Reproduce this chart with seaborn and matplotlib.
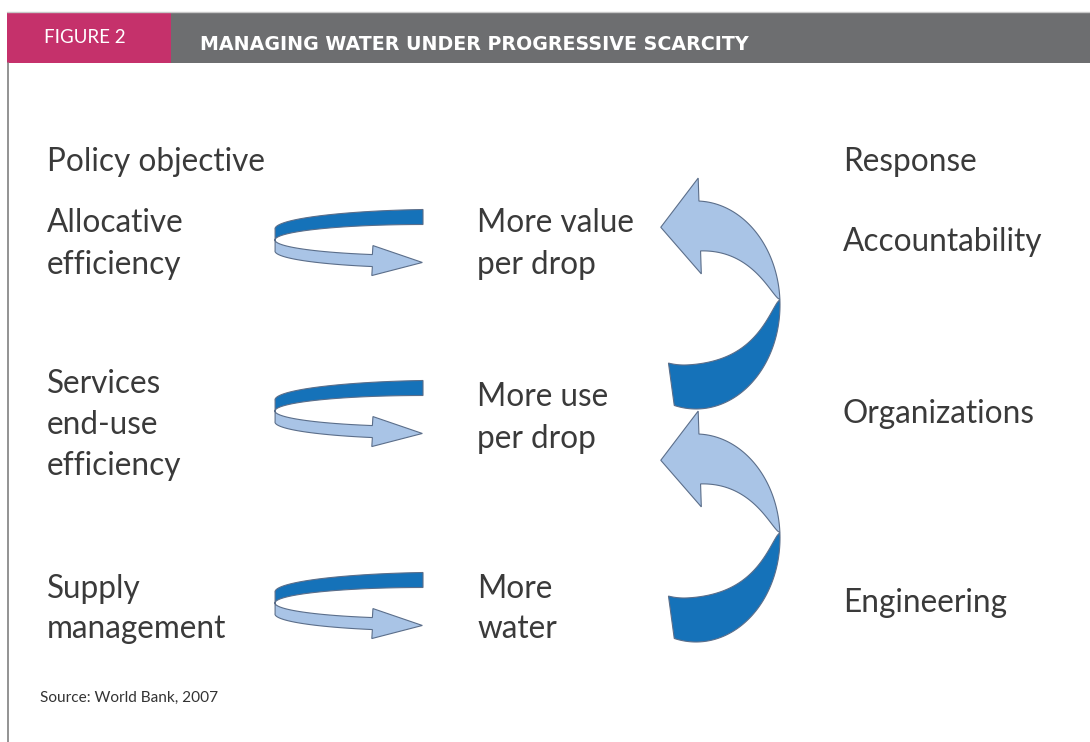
import numpy as np
import matplotlib
matplotlib.use('Agg')
import matplotlib.pyplot as plt
from matplotlib.patches import Polygon, Rectangle
import seaborn as sns

# labels
fig_tag = 'FIGURE 2'
fig_title = 'MANAGING WATER UNDER PROGRESSIVE SCARCITY'
left_head = 'Policy objective'
right_head = 'Response'
left_labels = ['Allocative\nefficiency', 'Services\nend-use\nefficiency', 'Supply\nmanagement']
mid_labels = ['More value\nper drop', 'More use\nper drop', 'More\nwater']
right_labels = ['Accountability', 'Organizations', 'Engineering']
source = 'Source: World Bank, 2007'

# layout (pixels)
left_y = [244, 425, 609]
mid_y = [244, 418, 609]
right_y = [242, 414, 603]
loop_y = [240, 411, 603]
big_y = [305, 538]
line_gap = 41

dark_blue = '#1572b9'
light_blue = '#a9c4e6'
edge = '#5b6e8a'
txt = '#3a3a3a'

sns.set_theme(style='white')
plt.rcParams['font.family'] = ['Lato', 'DejaVu Sans']

fig = plt.figure(figsize=(10.9, 7.42), dpi=100)
ax = fig.add_axes([0, 0, 1, 1])
ax.set_xlim(0, 1090)
ax.set_ylim(742, 0)
ax.axis('off')

# header bar + frame line
ax.add_patch(Rectangle((7, 12), 164, 51, color='#c5316b', lw=0))
ax.add_patch(Rectangle((171, 12), 919, 51, color='#6d6e70', lw=0))
ax.plot([7, 1090], [11.5, 11.5], color='#c8c8c8', lw=1)
ax.plot([8, 8], [63, 742], color='#8a8a8a', lw=1.3)
ax.text(44, 43, fig_tag, color='white', fontsize=13.5, va='baseline', ha='left')
ax.text(200, 50, fig_title, color='white', fontsize=13.7, fontweight='bold',
        family=['DejaVu Sans'], va='baseline', ha='left')


def put_lines(x, yc, s, size=22.7):
    lines = s.split('\n')
    n = len(lines)
    for i, ln in enumerate(lines):
        ax.text(x, yc + (i - (n - 1) / 2) * line_gap, ln, color=txt, fontsize=size,
                va='center', ha='left')


put_lines(47, 162, left_head)
put_lines(843, 162, right_head)
for lab, y in zip(left_labels, left_y):
    put_lines(47, y, lab)
for lab, y in zip(mid_labels, mid_y):
    put_lines(477, y, lab)
for lab, y in zip(right_labels, right_y):
    put_lines(843, y, lab)

ax.text(40, 698, source, color='#333333', fontsize=11.1, va='center', ha='left')


def small_loop(cy, cx=423, a=148, b=15.5):
    # light lower half with arrow head
    t = np.radians(np.linspace(178, 250, 60))
    x = cx + a * np.cos(t)
    yc = cy - b * np.sin(t)
    h = np.linspace(11, 12, len(t))
    d = np.array([-a * np.sin(t[-1]), -b * np.cos(t[-1])])
    d = d / np.hypot(*d)
    n = np.array([-d[1], d[0]])
    mid = np.array([x[-1], yc[-1] + h[-1] / 2])
    p_up = mid - 15 * n
    p_dn = mid + 15 * n
    tip = mid + 50 * d
    px = np.concatenate([x, [p_up[0], tip[0], p_dn[0]], x[::-1]])
    py = np.concatenate([yc, [p_up[1], tip[1], p_dn[1]], (yc + h)[::-1]])
    ax.add_patch(Polygon(np.column_stack([px, py]), fc=light_blue, ec=edge, lw=0.8))
    # dark upper half
    t = np.radians(np.linspace(90, 182, 60))
    x = cx + a * np.cos(t)
    yc = cy - b * np.sin(t)
    h = np.linspace(15, 11, len(t))
    px = np.concatenate([x, x[::-1]])
    py = np.concatenate([yc - h, yc[::-1]])
    ax.add_patch(Polygon(np.column_stack([px, py]), fc=dark_blue, ec=edge, lw=0.8))


def big_turn(cy, cx=696, rx=84, ry=104, tw=3.0):
    def outer(th):
        r = np.radians(th)
        return cx + rx * np.cos(r), cy - ry * np.sin(r)

    def inner(th, ecx, erx):
        r = np.radians(th)
        f = np.sin(np.radians(np.clip(np.abs(th - tw), 0, 90))) ** 0.7
        ox, oy = outer(th)
        ex, ey = ecx + erx * np.cos(r), cy + 3 - 57 * np.sin(r)
        return ox * (1 - f) + ex * f, oy * (1 - f) + ey * f

    # dark lower part
    th = np.linspace(tw, -105, 80)
    ox, oy = outer(th)
    ix, iy = inner(th, cx - 12, 60)
    ax.add_patch(Polygon(np.column_stack([np.concatenate([ox, ix[::-1]]),
                                          np.concatenate([oy, iy[::-1]])]),
                         fc=dark_blue, ec=edge, lw=0.8))
    # light upper part with head
    th = np.linspace(tw, 88, 80)
    ox, oy = outer(th)
    ix, iy = inner(th, cx + 3, 45)
    O = np.array([ox[-1], oy[-1]])
    I = np.array([ix[-1], iy[-1]])
    u = (I - O) / np.hypot(*(I - O))
    p1 = O - 23 * u
    p2 = I + 23 * u
    m = (O + I) / 2
    tip = m + 39 * np.array([-u[1], u[0]])
    px = np.concatenate([ox, [p1[0], tip[0], p2[0]], ix[::-1]])
    py = np.concatenate([oy, [p1[1], tip[1], p2[1]], iy[::-1]])
    ax.add_patch(Polygon(np.column_stack([px, py]), fc=light_blue, ec=edge, lw=0.8))


for y in loop_y:
    small_loop(y)
for y in big_y:
    big_turn(y)

fig.savefig('out.png', dpi=100, facecolor='white')
